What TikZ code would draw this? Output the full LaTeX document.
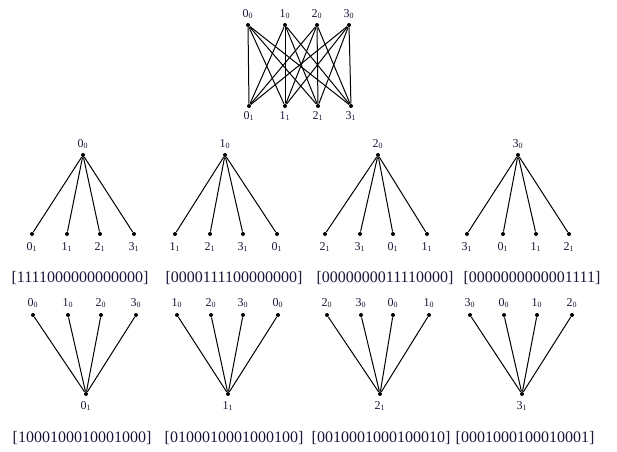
\documentclass[tikz,border=0pt]{standalone}
\usepackage{fontspec}
\setmainfont{Liberation Serif}
\definecolor{ink}{RGB}{24,24,56}
\newcommand{\vx}[2]{#1\textsubscript{#2}}
\tikzset{
    dot/.style={circle, fill, inner sep=0pt, minimum size=3pt},
    lbl/.style={font=\fontsize{9}{10}\selectfont, text=ink, inner sep=0pt},
    code/.style={font=\fontsize{12}{14}\selectfont, text=ink, inner sep=0pt, anchor=base}
}

\begin{document}
\begin{tikzpicture}[x=0.75pt, y=-0.75pt, line width=0.75pt, every label/.style={lbl}]
    \useasboundingbox (0, 0) rectangle (617, 452);
    % complete bipartite graph
    \foreach \x/\l in {248/0, 285/1, 317/2, 349/3}
        \node [dot, label={[label distance=2.5pt]above:\vx{\l}{0}}] (t\l) at (\x, 25) {};
    \foreach \x/\l in {249/0, 285/1, 318/2, 351/3}
        \node [dot, label={[label distance=2pt]below:\vx{\l}{1}}] (b\l) at (\x, 106) {};
    \foreach \i in {0,...,3} \foreach \j in {0,...,3} \draw (t\i) -- (b\j);
    % stars rooted at the upper vertices
    \node [dot, label={[label distance=2.5pt]above:\vx{0}{0}}] (p) at (83, 155) {};
    \foreach \x/\l [count=\i] in {32/0, 67/1, 100/2, 134/3} {
        \node [dot, label={[label distance=4pt]below:\vx{\l}{1}}] (p\i) at (\x, 234) {};
        \draw (p) -- (p\i);
    }
    \node [dot, label={[label distance=2.5pt]above:\vx{1}{0}}] (q) at (225, 155) {};
    \foreach \x/\l [count=\i] in {175/1, 210/2, 243/3, 277/0} {
        \node [dot, label={[label distance=4pt]below:\vx{\l}{1}}] (q\i) at (\x, 234) {};
        \draw (q) -- (q\i);
    }
    \node [dot, label={[label distance=2.5pt]above:\vx{2}{0}}] (r) at (378, 155) {};
    \foreach \x/\l [count=\i] in {325/2, 360/3, 393/0, 427/1} {
        \node [dot, label={[label distance=4pt]below:\vx{\l}{1}}] (r\i) at (\x, 234) {};
        \draw (r) -- (r\i);
    }
    \node [dot, label={[label distance=2.5pt]above:\vx{3}{0}}] (s) at (518, 155) {};
    \foreach \x/\l [count=\i] in {467/3, 503/0, 536/1, 569/2} {
        \node [dot, label={[label distance=4pt]below:\vx{\l}{1}}] (s\i) at (\x, 234) {};
        \draw (s) -- (s\i);
    }
    \node [code] (cp) at (80, 282) {[1111000000000000]};
    \node [code] (cq) at (234, 282) {[0000111100000000]};
    \node [code] (cr) at (385, 282) {[0000000011110000]};
    \node [code] (cs) at (532, 282) {[0000000000001111]};
    % stars rooted at the lower vertices
    \node [dot, label={[label distance=3.5pt]below:\vx{0}{1}}] (u) at (86, 394) {};
    \foreach \x/\l [count=\i] in {33/0, 68/1, 101/2, 136/3} {
        \node [dot, label={[label distance=3pt]above:\vx{\l}{0}}] (u\i) at (\x, 315) {};
        \draw (u) -- (u\i);
    }
    \node [dot, label={[label distance=3.5pt]below:\vx{1}{1}}] (v) at (228, 394) {};
    \foreach \x/\l [count=\i] in {177/1, 211/2, 243/3, 278/0} {
        \node [dot, label={[label distance=3pt]above:\vx{\l}{0}}] (v\i) at (\x, 315) {};
        \draw (v) -- (v\i);
    }
    \node [dot, label={[label distance=3.5pt]below:\vx{2}{1}}] (w) at (380, 394) {};
    \foreach \x/\l [count=\i] in {327/2, 361/3, 393/0, 429/1} {
        \node [dot, label={[label distance=3pt]above:\vx{\l}{0}}] (w\i) at (\x, 315) {};
        \draw (w) -- (w\i);
    }
    \node [dot, label={[label distance=3.5pt]below:\vx{3}{1}}] (z) at (522, 394) {};
    \foreach \x/\l [count=\i] in {470/3, 504/0, 537/1, 572/2} {
        \node [dot, label={[label distance=3pt]above:\vx{\l}{0}}] (z\i) at (\x, 315) {};
        \draw (z) -- (z\i);
    }
    \node [code] (cu) at (82, 442) {[1000100010001000]};
    \node [code] (cv) at (234, 442) {[0100010001000100]};
    \node [code] (cw) at (381, 442) {[0010001000100010]};
    \node [code] (cz) at (525, 442) {[0001000100010001]};
\end{tikzpicture}
\end{document}
